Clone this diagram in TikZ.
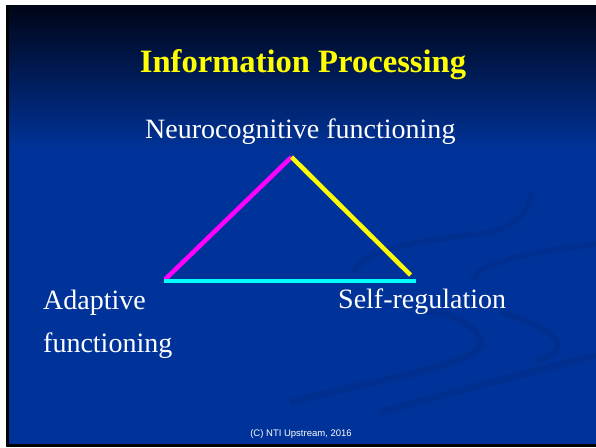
\documentclass[tikz,border=0pt]{standalone}
\usepackage{fontspec}
\setmainfont{Liberation Serif}
\setsansfont{Liberation Sans}
\definecolor{slidetop}{rgb}{0.0,0.02,0.09}
\definecolor{slideblue}{rgb}{0.0,0.2,0.6}
\definecolor{swooshblue}{rgb}{0.0,0.17,0.53}
\definecolor{ttyellow}{rgb}{1.,1.,0.}
\definecolor{ppmagenta}{rgb}{1.,0.,1.}
\definecolor{cccyan}{rgb}{0.,1.,1.}
\begin{document}
\begin{tikzpicture}[line cap=butt,line join=round,x=1pt,y=-1pt,
  slidetext/.style={text=white,inner sep=0pt,font=\fontsize{28}{32}\selectfont},
  side/.style={line width=4.5pt},
  swoosh/.style={swooshblue,line width=7pt,opacity=0.45}]
\useasboundingbox (0,0) rectangle (596,447);
\fill[white] (0,0) rectangle (596,447);
% background of the slide
\shade[top color=slidetop,bottom color=slideblue] (6,5) rectangle (596,150);
\fill[slideblue] (6,150) rectangle (596,447);
\draw[swoosh] (290,402) .. controls (400,375) and (500,360) .. (478,335) .. controls (465,318) and (440,312) .. (425,310);
\draw[swoosh] (380,412) .. controls (460,390) and (540,370) .. (596,355);
\draw[swoosh,line width=6pt] (500,312) .. controls (560,330) and (575,350) .. (535,362);
\draw[swoosh,line width=6pt] (353,272) .. controls (365,250) and (420,240) .. (480,234) .. controls (510,230) and (530,215) .. (532,192);
\draw[swoosh,line width=6pt] (472,280) .. controls (480,262) and (530,252) .. (596,244);
\draw[black,line width=3pt] (7.5,5) -- (7.5,445.5) -- (596,445.5);
% texts
\node[text=ttyellow,inner sep=0pt,anchor=base,font=\bfseries\fontsize{32.6}{38}\selectfont] (title) at (303,72) {Information Processing};
\node[slidetext,anchor=base west] (neuro) at (145,138) {Neurocognitive functioning};
\node[slidetext,anchor=base west,align=left] (adaptive) at (43,352) {Adaptive\\[11pt]functioning};
\node[slidetext,anchor=base west] (selfreg) at (338,308) {Self-regulation};
\node[text=white,inner sep=0pt,anchor=base,font=\sffamily\fontsize{9.5}{11}\selectfont] (footer) at (301,436) {(C) NTI Upstream, 2016};
% triangle
\coordinate (apex) at (291.5,157);
\coordinate (leftc) at (165,279.5);
\coordinate (rightc) at (410.5,275);
\coordinate (baseL) at (164,281);
\coordinate (baseR) at (416,281);
\draw[side,ppmagenta] (leftc) -- (apex);
\draw[side,ttyellow] (apex) -- (rightc);
\draw[side,cccyan] (baseL) -- (baseR);
\end{tikzpicture}
\end{document}
